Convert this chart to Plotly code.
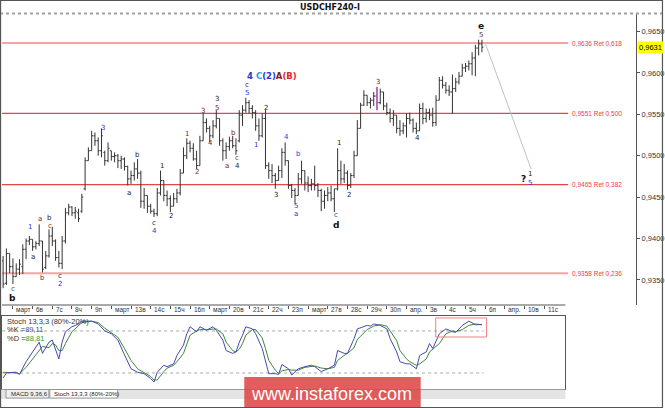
import plotly.graph_objects as go

W, H = 665, 408

# ---------------- data ----------------
bar_index = list(range(-3, 144))
opens = [0.9373,0.9346,0.9382,0.9366,0.9354,0.9363,0.9366,0.9387,0.9397,0.9399,0.9390,0.9394,0.9397,0.9365,0.9379,0.9403,0.9397,0.9377,0.9370,0.9397,
0.9431,0.9438,0.9431,0.9431,0.9433,0.9460,0.9494,0.9506,0.9524,0.9518,0.9506,0.9504,0.9494,0.9506,0.9499,0.9500,0.9494,0.9496,0.9487,0.9472,
0.9476,0.9484,0.9479,0.9445,0.9452,0.9439,0.9433,0.9430,0.9455,0.9470,0.9452,0.9448,0.9439,0.9448,0.9455,0.9479,0.9500,0.9515,0.9509,0.9496,
0.9488,0.9518,0.9540,0.9533,0.9524,0.9536,0.9545,0.9518,0.9506,0.9511,0.9518,0.9512,0.9518,0.9549,0.9555,0.9564,0.9557,0.9552,0.9536,0.9524,
0.9545,0.9488,0.9482,0.9476,0.9470,0.9482,0.9504,0.9494,0.9464,0.9458,0.9452,0.9472,0.9482,0.9467,0.9464,0.9466,0.9464,0.9458,0.9445,0.9452,
0.9455,0.9448,0.9460,0.9482,0.9472,0.9479,0.9464,0.9476,0.9500,0.9533,0.9561,0.9573,0.9564,0.9567,0.9572,0.9564,0.9577,0.9560,0.9552,0.9545,
0.9549,0.9533,0.9530,0.9536,0.9545,0.9543,0.9533,0.9530,0.9557,0.9545,0.9552,0.9549,0.9540,0.9567,0.9591,0.9585,0.9579,0.9577,0.9581,0.9589,
0.9596,0.9606,0.9608,0.9611,0.9618,0.9630,0.9635]
highs = [0.9379,0.9388,0.9382,0.9376,0.9370,0.9375,0.9393,0.9400,0.9403,0.9399,0.9397,0.9417,0.9397,0.9385,0.9411,0.9414,0.9399,0.9385,0.9403,0.9437,
0.9442,0.9439,0.9438,0.9436,0.9454,0.9498,0.9510,0.9530,0.9528,0.9522,0.9533,0.9506,0.9516,0.9506,0.9504,0.9502,0.9500,0.9498,0.9488,0.9482,
0.9492,0.9496,0.9482,0.9461,0.9452,0.9442,0.9436,0.9461,0.9482,0.9470,0.9458,0.9452,0.9455,0.9460,0.9484,0.9510,0.9521,0.9518,0.9515,0.9506,
0.9524,0.9551,0.9545,0.9536,0.9543,0.9555,0.9545,0.9521,0.9516,0.9523,0.9524,0.9521,0.9555,0.9561,0.9570,0.9567,0.9561,0.9555,0.9545,0.9551,
0.9555,0.9492,0.9490,0.9479,0.9488,0.9509,0.9516,0.9494,0.9466,0.9461,0.9479,0.9494,0.9482,0.9475,0.9472,0.9488,0.9467,0.9460,0.9458,0.9462,
0.9464,0.9460,0.9509,0.9494,0.9490,0.9482,0.9479,0.9506,0.9543,0.9564,0.9579,0.9573,0.9570,0.9577,0.9583,0.9581,0.9577,0.9564,0.9557,0.9555,
0.9549,0.9543,0.9540,0.9551,0.9552,0.9545,0.9540,0.9563,0.9564,0.9557,0.9557,0.9558,0.9573,0.9595,0.9596,0.9589,0.9585,0.9598,0.9594,0.9601,
0.9611,0.9612,0.9615,0.9625,0.9634,0.9640,0.9640]
lows = [0.9340,0.9344,0.9358,0.9345,0.9354,0.9356,0.9357,0.9375,0.9392,0.9385,0.9387,0.9391,0.9359,0.9363,0.9377,0.9391,0.9373,0.9365,0.9363,0.9394,
0.9428,0.9427,0.9424,0.9420,0.9431,0.9458,0.9494,0.9506,0.9512,0.9500,0.9498,0.9488,0.9492,0.9494,0.9492,0.9485,0.9484,0.9482,0.9464,0.9466,
0.9470,0.9472,0.9437,0.9436,0.9431,0.9430,0.9426,0.9427,0.9452,0.9445,0.9439,0.9432,0.9439,0.9443,0.9452,0.9479,0.9496,0.9504,0.9494,0.9484,
0.9488,0.9518,0.9528,0.9516,0.9521,0.9533,0.9512,0.9494,0.9496,0.9506,0.9509,0.9501,0.9516,0.9536,0.9552,0.9551,0.9545,0.9530,0.9518,0.9522,
0.9484,0.9472,0.9467,0.9460,0.9470,0.9473,0.9488,0.9460,0.9449,0.9442,0.9452,0.9466,0.9458,0.9456,0.9458,0.9458,0.9450,0.9433,0.9436,0.9445,
0.9445,0.9432,0.9458,0.9466,0.9467,0.9459,0.9461,0.9473,0.9500,0.9533,0.9560,0.9560,0.9557,0.9560,0.9555,0.9562,0.9555,0.9549,0.9540,0.9536,
0.9527,0.9524,0.9526,0.9522,0.9538,0.9528,0.9526,0.9530,0.9538,0.9540,0.9543,0.9535,0.9536,0.9567,0.9581,0.9575,0.9572,0.9551,0.9577,0.9586,
0.9596,0.9601,0.9603,0.9597,0.9596,0.9621,0.9625]
closes = [0.9345,0.9382,0.9366,0.9354,0.9363,0.9369,0.9387,0.9397,0.9399,0.9390,0.9394,0.9397,0.9363,0.9379,0.9403,0.9397,0.9377,0.9370,0.9397,0.9431,
0.9438,0.9431,0.9433,0.9424,0.9450,0.9494,0.9506,0.9524,0.9518,0.9506,0.9524,0.9494,0.9509,0.9499,0.9500,0.9494,0.9496,0.9487,0.9472,0.9476,
0.9484,0.9479,0.9445,0.9452,0.9439,0.9433,0.9430,0.9455,0.9470,0.9452,0.9448,0.9439,0.9448,0.9455,0.9479,0.9500,0.9515,0.9509,0.9496,0.9488,
0.9518,0.9540,0.9533,0.9524,0.9536,0.9545,0.9518,0.9506,0.9511,0.9518,0.9512,0.9506,0.9549,0.9555,0.9564,0.9557,0.9552,0.9536,0.9524,0.9545,
0.9488,0.9482,0.9476,0.9470,0.9482,0.9504,0.9494,0.9464,0.9458,0.9452,0.9472,0.9482,0.9467,0.9464,0.9466,0.9464,0.9458,0.9445,0.9452,0.9455,
0.9448,0.9460,0.9482,0.9472,0.9479,0.9464,0.9476,0.9500,0.9533,0.9561,0.9573,0.9564,0.9567,0.9572,0.9564,0.9577,0.9560,0.9552,0.9545,0.9549,
0.9533,0.9530,0.9536,0.9545,0.9543,0.9533,0.9530,0.9557,0.9545,0.9552,0.9549,0.9540,0.9567,0.9591,0.9585,0.9579,0.9577,0.9581,0.9589,0.9596,
0.9606,0.9608,0.9611,0.9618,0.9630,0.9635,0.9631]
highlight_bar = 111

day_labels = ["март","6в","7с","8ч","9п","март","13в","14с","15ч","16п","март","20в","21с","22ч","23п",
              "март","27в","28с","29ч","30п","апр.","3в","4с","5ч","6п","апр.","10в","11с"]
bars_per_day = 6

price_ticks = [0.9350, 0.9400, 0.9450, 0.9500, 0.9550, 0.9600, 0.9650]
current_price = 0.9631

fib_levels = [0.9636, 0.9551, 0.9465, 0.9358]
fib_ratios = ["0,618", "0,500", "0,382", "0,236"]

proj_x = [144, 158]
proj_y = [0.9636, 0.9484]

wave_x = [70.8, 71.4, 71.4, 62.3, 62.3, 58.1, 77.2, 27.4, 53.2, 60.2, 67.2, 74.2, 83.3, 38.0, 87.2, 68.4,
          56.2, 65.3, 68.4, 45.3, 35.3, 42.9, 43.2, 48.3, 80.2, 86.3, 86.3, 5.2, 8.2, 11.2, 11.2, 6.1,
          9.1, 14.3, 14.3, 0.0, 0.0, 142.6, 142.6, 111.2, 123.4, 99.4, 102.4, 98.5, 98.5, 155.6, 157.8, 157.8]
wave_y = [0.9596, 0.9585, 0.9576, 0.9568, 0.9558, 0.9554, 0.9558, 0.9533, 0.9526, 0.9515, 0.9527, 0.9513, 0.9522, 0.9501, 0.9502, 0.9497,
          0.9480, 0.9488, 0.9488, 0.9487, 0.9455, 0.9419, 0.9409, 0.9427, 0.9452, 0.9439, 0.9429, 0.9414, 0.9423, 0.9425, 0.9415, 0.9378,
          0.9352, 0.9355, 0.9345, 0.9339, 0.9328, 0.9656, 0.9646, 0.9589, 0.9521, 0.9515, 0.9452, 0.9428, 0.9416, 0.9472, 0.9478, 0.9467]
wave_text = ["4 C(2)A(B)", "c", "5", "3", "5", "3", "2", "3", "1", "4", "b", "1", "4", "b", "b", "c",
             "2", "a", "4", "1", "a", "c", "4", "2", "3", "5", "a", "1", "a", "b", "c", "a",
             "b", "c", "2", "c", "b", "e", "5", "3", "4", "1", "2", "c", "d", "?", "1", "5"]
wave_kind = ["combo", "k", "u", "k", "r", "r", "k", "u", "r", "r", "r", "u", "u", "k", "u", "r",
             "r", "r", "k", "k", "k", "k", "u", "k", "k", "u", "u", "u", "r", "k", "r", "k",
             "r", "k", "u", "u", "K", "K", "n", "n", "k", "k", "k", "u", "K", "K", "k", "u"]

stoch_x = [-3,-2,0,1,2,4,6,8,9,11,12,13,14,15,16,18,20,21,24,26,28,30,32,34,36,38,40,42,43,44,46,47,49,50,52,53,54,56,57,59,
           61,62,64,65,67,68,69,70,71,73,74,76,77,78,80,81,82,84,85,87,89,91,92,94,96,98,99,101,102,104,105,108,109,110,112,114,115,117,118,120,
           121,123,124,126,127,128,130,132,134,135,137,139,141,143]
stoch_k = [13,20,21,21,18,36,50,64,48,64,67,53,40,64,79,86,90,94,94,90,80,76,67,46,26,21,19,12,7,21,31,29,33,45,60,76,86,79,86,81,
           86,81,67,52,48,50,64,74,86,83,76,55,36,19,19,18,32,26,17,26,29,31,29,22,26,31,52,48,48,69,83,88,87,90,88,83,69,50,36,33,
           33,26,45,50,62,55,76,83,79,78,88,94,89,89.11]
stoch_d = [21,21,20,20,19,28,40,52,58,56,62,60,52,52,62,79,88,92,94,92,84,78,71,55,38,26,21,15,10,10,22,27,31,36,48,60,74,80,82,82,
           83,83,76,64,52,50,54,62,74,82,82,70,55,38,24,19,23,25,24,24,28,30,30,27,26,28,38,45,48,56,68,82,85,87,89,87,80,66,52,40,
           36,31,33,40,50,54,62,76,80,79,82,88,90,88.81]
stoch_levels = [80, 20]

# ---------------- layout helpers ----------------
def px(x):
    return x / W

def py(y):
    return 1 - y / H

X0_MAIN = (-3.34, 190.0)
X0_STO = (-3.34, 168.4)
Y_MAIN = (0.93197, 0.96711)
Y_STO = (-2.9, 101.4)
FONT = "Liberation Sans"

def fmt(v, d=4):
    return f"{v:.{d}f}".replace(".", ",")

fig = go.Figure()

fig.add_trace(go.Ohlc(
    x=bar_index, open=opens, high=highs, low=lows, close=closes,
    increasing=dict(line=dict(color="#333333", width=1)),
    decreasing=dict(line=dict(color="#333333", width=1)),
    tickwidth=0.45, xaxis="x", yaxis="y", hoverinfo="skip", showlegend=False))

k = bar_index.index(highlight_bar)
fig.add_trace(go.Ohlc(
    x=[bar_index[k]], open=[opens[k]], high=[highs[k]], low=[lows[k]], close=[closes[k]],
    increasing=dict(line=dict(color="#e040e0", width=1)),
    decreasing=dict(line=dict(color="#e040e0", width=1)),
    tickwidth=0.45, xaxis="x", yaxis="y", hoverinfo="skip", showlegend=False))

fig.add_trace(go.Scatter(x=proj_x, y=proj_y, mode="lines",
                         line=dict(color="#c0c0c0", width=1), xaxis="x", yaxis="y",
                         hoverinfo="skip", showlegend=False))

# stoch
fig.add_trace(go.Scatter(x=stoch_x, y=stoch_d, mode="lines", line=dict(color="#3a8a3a", width=1),
                         xaxis="x2", yaxis="y2", hoverinfo="skip", showlegend=False))
fig.add_trace(go.Scatter(x=stoch_x, y=stoch_k, mode="lines", line=dict(color="#4848b0", width=1),
                         xaxis="x2", yaxis="y2", hoverinfo="skip", showlegend=False))

shapes = []
annotations = []

# fib lines
fib_end = 169.3
for lvl, rat in zip(fib_levels, fib_ratios):
    light = rat in ("0,618", "0,236")
    shapes.append(dict(type="line", xref="x", yref="y", x0=X0_MAIN[0], x1=fib_end, y0=lvl, y1=lvl,
                       line=dict(color="#f4a4a4" if light else "#e84545", width=2 if light else 1.3), layer="below"))
    annotations.append(dict(xref="x", yref="y", x=fib_end + 0.4, y=lvl, xanchor="left", yanchor="middle",
                            text=f"{fmt(lvl)} Ret {rat}", showarrow=False,
                            font=dict(family=FONT, size=6.5, color="#f03c3c")))

# stoch levels
for lv in stoch_levels:
    shapes.append(dict(type="line", xref="x2", yref="y2", x0=bar_index[0] - 0.3, x1=bar_index[-1] + 0.5, y0=lv, y1=lv,
                       line=dict(color="#a8a8a8", width=1, dash="dot"), layer="below"))
# highlight box in stoch
shapes.append(dict(type="rect", xref="x2", yref="y2", x0=128.9, x1=144.4, y0=71.4, y1=98.6,
                   line=dict(color="#f08080", width=1)))

# main x-axis base line (only to the end of the time scale)
shapes.append(dict(type="line", xref="paper", yref="paper", x0=px(2), x1=px(567), y0=py(305), y1=py(305),
                   line=dict(color="#555555", width=1)))
# header separator
shapes.append(dict(type="line", xref="paper", yref="paper", x0=0, x1=1, y0=py(13.5), y1=py(13.5),
                   line=dict(color="#a0a0a0", width=2, dash="dot")))
# tab bar
shapes.append(dict(type="rect", xref="paper", yref="paper", x0=px(1), x1=px(567), y0=py(399), y1=py(389.5),
                   fillcolor="#e4e4e4", line=dict(width=0)))
shapes.append(dict(type="rect", xref="paper", yref="paper", x0=px(50), x1=px(118), y0=py(398), y1=py(389.5),
                   fillcolor="#ffffff", line=dict(color="#888888", width=0.8)))
shapes.append(dict(type="rect", xref="paper", yref="paper", x0=px(6), x1=px(49), y0=py(398), y1=py(389.5),
                   fillcolor="#efefef", line=dict(color="#888888", width=0.8)))
# watermark
shapes.append(dict(type="rect", xref="paper", yref="paper", x0=px(245), x1=px(422), y0=py(408), y1=py(377),
                   fillcolor="rgba(222,72,72,0.88)", line=dict(width=0)))
# outer border
shapes.append(dict(type="rect", xref="paper", yref="paper", x0=0.0008, x1=0.9992, y0=0.001, y1=0.999,
                   line=dict(color="#555555", width=1.2)))

# day labels
for d, lab in enumerate(day_labels):
    annotations.append(dict(xref="x", yref="paper", x=d * bars_per_day, y=py(309.5), xanchor="left", yanchor="middle",
                            xshift=1.5, text=lab, showarrow=False, font=dict(family=FONT, size=6.5, color="#333333")))

# title
annotations.append(dict(xref="paper", yref="paper", x=px(331), y=py(7), text="<b>USDCHF240-I</b>", showarrow=False,
                        xanchor="center", yanchor="middle", font=dict(family="DejaVu Sans", size=8, color="#111111")))

# current price box
annotations.append(dict(xref="paper", yref="y", x=px(638.5), y=current_price, xanchor="left", yanchor="middle",
                        text=fmt(current_price), showarrow=False, bgcolor="#ffff00", borderpad=1,
                        font=dict(family=FONT, size=7.5, color="#000000")))

# wave labels
colors = {"k": "#222222", "K": "#111111", "u": "#2a36d8", "r": "#8a2222", "n": "#6a3424"}
for x, y, t, kind in zip(wave_x, wave_y, wave_text, wave_kind):
    if kind == "combo":
        txt = ("<b><span style='color:#2a36d8'>4</span> <span style='color:#2aa0e0'>C</span>"
               "<span style='color:#2a36d8'>(2)</span><span style='color:#8a1a1a'>A</span>"
               "<span style='color:#e02828'>(B)</span></b>")
        annotations.append(dict(xref="x", yref="y", x=x, y=y, xanchor="left", yanchor="middle", text=txt,
                                showarrow=False, font=dict(family="DejaVu Sans", size=8.5)))
    else:
        big = kind == "K"
        annotations.append(dict(xref="x", yref="y", x=x, y=y, xanchor="center", yanchor="middle",
                                text=f"<b>{t}</b>" if big else t, showarrow=False,
                                font=dict(family="DejaVu Sans", size=9 if big else 7, color=colors[kind])))

# stoch legend
annotations.append(dict(xref="paper", yref="paper", x=px(5), y=py(321), xanchor="left", yanchor="middle",
                        text="Stoch 13,3,3 (80%-20%)", showarrow=False, font=dict(family=FONT, size=7.5, color="#333333")))
annotations.append(dict(xref="paper", yref="paper", x=px(5), y=py(329.5), xanchor="left", yanchor="middle",
                        text=f"%K =<span style='color:#4848b0'>{fmt(stoch_k[-1], 2)}</span>", showarrow=False,
                        font=dict(family=FONT, size=7.5, color="#333333")))
annotations.append(dict(xref="paper", yref="paper", x=px(5), y=py(338), xanchor="left", yanchor="middle",
                        text=f"%D =<span style='color:#2f9a2f'>{fmt(stoch_d[-1], 2)}</span>", showarrow=False,
                        font=dict(family=FONT, size=7.5, color="#333333")))
# tabs text
annotations.append(dict(xref="paper", yref="paper", x=px(9), y=py(394), xanchor="left", yanchor="middle",
                        text="MACD 9,36,6", showarrow=False, font=dict(family=FONT, size=6, color="#222222")))
annotations.append(dict(xref="paper", yref="paper", x=px(52), y=py(394), xanchor="left", yanchor="middle",
                        text="Stoch 13,3,3 (80%-20%)", showarrow=False, font=dict(family=FONT, size=6, color="#222222")))
# watermark text
annotations.append(dict(xref="paper", yref="paper", x=px(333), y=py(394), xanchor="center", yanchor="middle",
                        text="www.instaforex.com", showarrow=False, font=dict(family="Liberation Sans", size=18, color="#ffffff")))

fig.update_layout(
    width=W, height=H, margin=dict(l=0, r=0, t=0, b=0),
    paper_bgcolor="#ffffff", plot_bgcolor="#ffffff", showlegend=False,
    xaxis=dict(domain=[px(2), px(638)], range=list(X0_MAIN), showgrid=False, zeroline=False, showline=False,
               tickvals=[d * bars_per_day for d in range(len(day_labels))], ticks="outside", ticklen=3,
               tickcolor="#555555", showticklabels=False, rangeslider=dict(visible=False), fixedrange=True),
    yaxis=dict(domain=[py(305), py(14)], range=list(Y_MAIN), side="right", showgrid=False, zeroline=False,
               showline=True, linecolor="#555555", linewidth=1, ticks="outside", ticklen=3, tickcolor="#555555",
               tickvals=price_ticks, ticktext=[fmt(v) for v in price_ticks],
               tickfont=dict(family=FONT, size=7.5, color="#333333"), fixedrange=True),
    xaxis2=dict(domain=[px(2), px(567)], range=list(X0_STO), anchor="y2", showgrid=False, zeroline=False,
                showline=True, mirror=True, linecolor="#555555", showticklabels=False, ticks=""),
    yaxis2=dict(domain=[py(389), py(316)], range=list(Y_STO), anchor="x2", showgrid=False, zeroline=False,
                showline=True, mirror=True, linecolor="#555555", showticklabels=False, ticks=""),
    shapes=shapes, annotations=annotations,
)

fig.write_html("out.html", config={"displayModeBar": False},
               post_script="document.body.style.margin='0px';document.body.style.overflow='hidden';")
